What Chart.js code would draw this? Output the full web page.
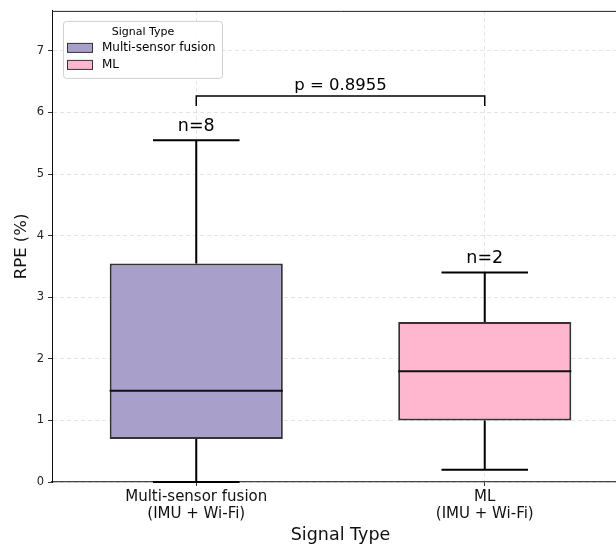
<!DOCTYPE html>
<html>
<head>
<meta charset="utf-8">
<script src="https://cdn.jsdelivr.net/npm/chart.js@4/dist/chart.umd.min.js"></script>
<style>
  html, body { margin: 0; padding: 0; background: #fff; overflow: hidden; }
  #wrap { width: 640px; height: 546px; }
</style>
</head>
<body>
<div id="wrap"><canvas id="c" width="640" height="546"></canvas></div>
<script>
// ---- data ----
const categories = [["Multi-sensor fusion", "(IMU + Wi-Fi)"], ["ML", "(IMU + Wi-Fi)"]];
const legendLabels = ["Multi-sensor fusion", "ML"];
const whiskerLow = [0.0, 0.2];
const q1 = [0.70, 1.00];
const median = [1.48, 1.80];
const q3 = [3.55, 2.60];
const whiskerHigh = [5.55, 3.40];
const sampleSizes = [8, 2];
const pValue = 0.8955;
const yTicks = [0, 1, 2, 3, 4, 5, 6, 7];

const fillColors = ["#a99fcb", "#ffb6cf"];
const FONT = "'DejaVu Sans', sans-serif";

const boxPlugin = {
  id: "boxExtras",
  afterDatasetsDraw(chart) {
    const ctx = chart.ctx;
    const xs = chart.scales.x, ys = chart.scales.y;
    const meta = chart.getDatasetMeta(0);
    ctx.save();
    for (let i = 0; i < categories.length; i++) {
      const bar = meta.data[i];
      const cx = xs.getPixelForValue(i);
      const half = bar.width / 2;
      const capHalf = half / 2;
      ctx.strokeStyle = "#000";
      ctx.lineWidth = 2;
      ctx.lineCap = "butt";
      ctx.beginPath();
      ctx.moveTo(cx, ys.getPixelForValue(q3[i]));
      ctx.lineTo(cx, ys.getPixelForValue(whiskerHigh[i]));
      ctx.moveTo(cx, ys.getPixelForValue(q1[i]));
      ctx.lineTo(cx, ys.getPixelForValue(whiskerLow[i]));
      const yh = ys.getPixelForValue(whiskerHigh[i]);
      const yl = ys.getPixelForValue(whiskerLow[i]);
      ctx.moveTo(cx - capHalf, yh); ctx.lineTo(cx + capHalf, yh);
      ctx.moveTo(cx - capHalf, yl); ctx.lineTo(cx + capHalf, yl);
      ctx.stroke();
      ctx.strokeStyle = "#111";
      ctx.beginPath();
      const ym = ys.getPixelForValue(median[i]);
      ctx.moveTo(cx - half, ym); ctx.lineTo(cx + half, ym);
      ctx.stroke();
      ctx.fillStyle = "#000";
      ctx.font = "17.5px " + FONT;
      ctx.textAlign = "center";
      ctx.textBaseline = "bottom";
      ctx.fillText("n=" + sampleSizes[i], cx, yh - 5);
    }
    const top = Math.max(...whiskerHigh) + 0.72;
    const by = ys.getPixelForValue(top);
    const x0 = xs.getPixelForValue(0), x1 = xs.getPixelForValue(1);
    ctx.strokeStyle = "#000";
    ctx.lineWidth = 1.5;
    ctx.beginPath();
    ctx.moveTo(x0, by + 10); ctx.lineTo(x0, by); ctx.lineTo(x1, by); ctx.lineTo(x1, by + 10);
    ctx.stroke();
    ctx.font = "16.5px " + FONT;
    ctx.textAlign = "center";
    ctx.textBaseline = "alphabetic";
    ctx.fillText("p = " + pValue.toFixed(4), (x0 + x1) / 2, by - 6);
    ctx.restore();
  },
  afterDraw(chart) {
    const ctx = chart.ctx;
    const a = chart.chartArea;
    ctx.save();
    ctx.strokeStyle = "#222";
    ctx.lineWidth = 1;
    ctx.beginPath();
    ctx.moveTo(a.left, a.top + 0.5); ctx.lineTo(a.right, a.top + 0.5);
    ctx.stroke();
    const lx = a.left + 11, ly = a.top + 10, lw = 159, lh = 57;
    ctx.fillStyle = "rgba(255,255,255,0.85)";
    ctx.strokeStyle = "#d0d0d0";
    ctx.lineWidth = 1;
    ctx.beginPath();
    ctx.roundRect(lx + 0.5, ly + 0.5, lw, lh, 3);
    ctx.fill(); ctx.stroke();
    ctx.fillStyle = "#000";
    ctx.font = "11px " + FONT;
    ctx.textAlign = "center";
    ctx.textBaseline = "middle";
    ctx.fillText("Signal Type", lx + lw / 2 + 0.5, ly + 11);
    ctx.font = "12px " + FONT;
    ctx.textAlign = "left";
    for (let i = 0; i < legendLabels.length; i++) {
      const py = ly + 22 + i * 17;
      ctx.fillStyle = fillColors[i];
      ctx.fillRect(lx + 4.5, py + 0.5, 25, 9);
      ctx.strokeStyle = "#333";
      ctx.lineWidth = 1;
      ctx.strokeRect(lx + 4.5, py + 0.5, 25, 9);
      ctx.fillStyle = "#000";
      ctx.fillText(legendLabels[i], lx + 39, py + 5);
    }
    ctx.restore();
  }
};

new Chart(document.getElementById("c"), {
  type: "bar",
  data: {
    labels: categories,
    datasets: [{
      data: q1.map((v, i) => [v, q3[i]]),
      backgroundColor: fillColors,
      borderColor: "#333",
      borderWidth: 2,
      borderSkipped: false,
      barPercentage: 0.6,
      categoryPercentage: 1.0
    }]
  },
  options: {
    responsive: false,
    animation: false,
    layout: { padding: { top: 10, right: 11, left: 0, bottom: 0 } },
    plugins: { legend: { display: false }, tooltip: { enabled: false } },
    scales: {
      x: {
        offset: true,
        grid: { offset: false, color: "rgba(0,0,0,0.1)", tickLength: 4, tickColor: "#333", tickBorderDash: [] },
        border: { color: "#444", width: 1.2, dash: [4, 3] },
        ticks: { color: "#111", font: { family: FONT, size: 15, lineHeight: 1.15 }, padding: 2, maxRotation: 0 },
        title: { display: true, text: "Signal Type", color: "#111", font: { family: FONT, size: 17.5 }, padding: { top: 2, bottom: 0 } },
        afterFit(s) { s.height = 64; }
      },
      y: {
        min: 0, max: 7.65,
        afterBuildTicks(s) { s.ticks = yTicks.map(v => ({ value: v })); },
        grid: { color: "rgba(0,0,0,0.1)", tickLength: 4, tickColor: "#333", tickBorderDash: [] },
        border: { color: "#111", width: 1, dash: [4, 3] },
        ticks: { color: "#222", font: { family: FONT, size: 11.5 }, padding: 4 },
        title: { display: true, text: "RPE (%)", color: "#111", font: { family: FONT, size: 16.5 }, padding: { top: 12, bottom: 0 } },
        afterFit(s) { s.width = 52; }
      }
    }
  },
  plugins: [boxPlugin]
});
</script>
</body>
</html>
